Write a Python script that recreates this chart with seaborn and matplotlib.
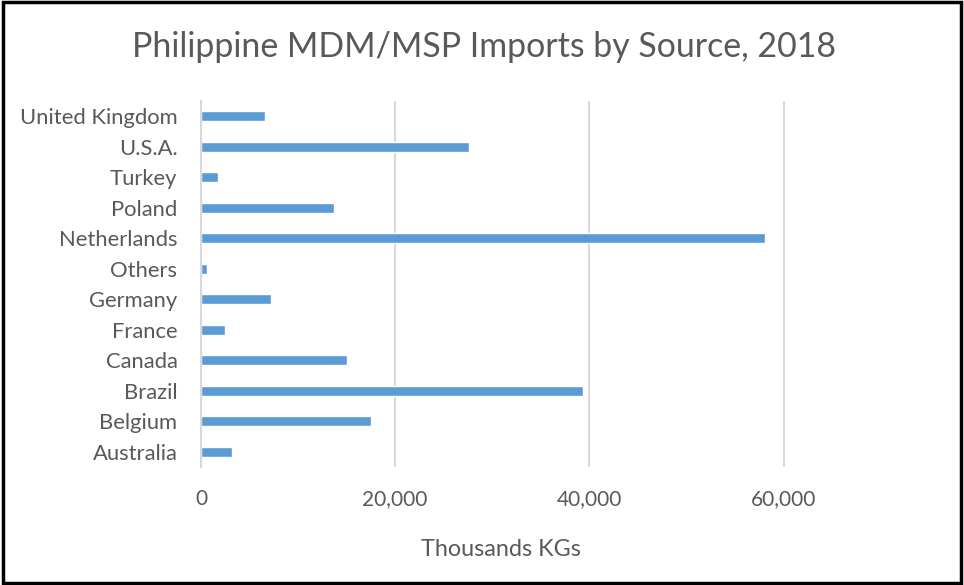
import matplotlib
matplotlib.use("Agg")
import matplotlib.pyplot as plt
import seaborn as sns
import pandas as pd
from matplotlib.patches import Rectangle
from matplotlib.ticker import FuncFormatter, MultipleLocator

countries = ["United Kingdom", "U.S.A.", "Turkey", "Poland", "Netherlands", "Others",
             "Germany", "France", "Canada", "Brazil", "Belgium", "Australia"]
imports = [6590, 27560, 1710, 13700, 58090, 620, 7240, 2470, 15000, 39300, 17540, 3150]

df = pd.DataFrame({"country": countries, "imports": imports})

sns.set_theme(style="white")
plt.rcParams["font.family"] = ["Lato", "DejaVu Sans"]

TEXT = "#595959"
GRID = "#D9D9D9"
BAR = "#5B9BD5"

fig = plt.figure(figsize=(9.64, 5.85), dpi=100)
ax = fig.add_axes([0.2085, 0.2017, 0.705, 0.6257])

sns.barplot(data=df, x="imports", y="country", order=countries, color=BAR,
            width=0.33, saturation=1, ax=ax, orient="h")

ax.set_xlim(0, 70000)
ax.xaxis.set_major_locator(MultipleLocator(20000))
ax.xaxis.set_major_formatter(FuncFormatter(lambda v, p: f"{int(v):,}" if v <= 60000 else ""))
ax.grid(axis="x", color=GRID, linewidth=1.5)
ax.set_axisbelow(True)
for s in ["top", "right", "bottom"]:
    ax.spines[s].set_visible(False)
ax.spines["left"].set_color(GRID)
ax.spines["left"].set_linewidth(1.5)
ax.tick_params(axis="both", length=0, colors=TEXT)
ax.tick_params(axis="x", pad=16, labelsize=15)
ax.tick_params(axis="y", pad=17, labelsize=15.8)
ax.set_ylabel("")
ax.set_xlabel("")

fig.text(501 / 964, 1 - 549 / 585, "Thousands KGs", ha="center", va="center",
         color=TEXT, fontsize=16.8)
fig.text(484 / 964, 1 - 47 / 585, "Philippine MDM/MSP Imports by Source, 2018", ha="center",
         va="center", color=TEXT, fontsize=24.4)

fig.patches.append(Rectangle((0.003, 0.004), 0.994, 0.992, transform=fig.transFigure,
                             fill=False, edgecolor="black", linewidth=2.5))

fig.savefig("out.png", dpi=100)
